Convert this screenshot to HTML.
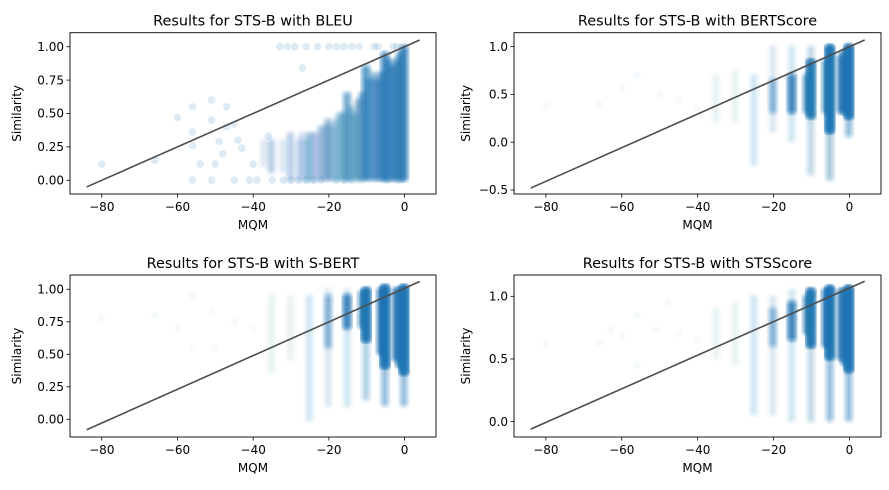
<!DOCTYPE html>
<html><head><meta charset="utf-8">
<style>
html,body{margin:0;padding:0;background:#fff;}
svg{display:block;font-family:"DejaVu Sans","Liberation Sans",sans-serif;}
</style></head>
<body>
<svg id="fig" width="889" height="490" viewBox="0 0 889 490"></svg>
<script>
// ---- data (columns: mqm, yLow, yHigh, density) ----
const xTicks = [-80, -60, -40, -20, 0];
const lineX = [-84, 4];

const bleuCols = [[0,0,1,0.95],[-1,0,0.95,0.7],[-2,0,0.9,0.6],[-3,0,0.85,0.6],[-4,0,0.9,0.6],[-5,0,0.95,0.85],[-6,0,0.8,0.55],[-7,0,0.75,0.55],[-8,0,0.8,0.45],[-9,0,0.75,0.45],[-10,0,0.85,0.75],[-11,0,0.65,0.45],[-12,0,0.6,0.4],[-13,0,0.5,0.35],[-14,0,0.55,0.3],[-15,0,0.65,0.5],[-16,0,0.5,0.3],[-17,0,0.5,0.3],[-18,0,0.45,0.25],[-19,0,0.4,0.25],[-20,0,0.45,0.4],[-21,0,0.4,0.2],[-22,0,0.4,0.2],[-23,0,0.35,0.15],[-24,0,0.35,0.15],[-25,0,0.35,0.3],[-26,0,0.3,0.12],[-27,0,0.35,0.15],[-28,0,0.3,0.1],[-30,0,0.35,0.2],[-32,0.05,0.3,0.1],[-35,0.05,0.3,0.2],[-37,0.1,0.3,0.08]];
const bleuPts = [[-80,0.12],[-66,0.15],[-60,0.47],[-56,0.55],[-56,0.36],[-56,0.26],[-51,0.6],[-51,0.45],[-49,0.29],[-47,0.55],[-47,0.4],[-45,0.42],[-44,0.3],[-43,0.24],[-48,0.2],[-50,0.12],[-54,0.12],[-40,0.12],[-36,0.33],[-27,0.84],[-56,0],[-51,0],[-45,0],[-41,0],[-39,0],[-35,0],[-32,0],[-30,0],[-28,0],[-26,0],[-24,0],[-22,0],[-18,0],[-16,0],[-14,0],[-33,1],[-31,1],[-29,1],[-26,1],[-23,1],[-20,1],[-18,1],[-16,1],[-14,1],[-12,1],[-8,1],[-7,1],[-3,1],[-2,1]];

const bertCols = [[0,0.05,1.02,0.15],[0,0.25,1.0,0.95],[-1,0.3,0.95,0.5],[-2,0.3,0.9,0.4],[-5,-0.4,1.0,0.12],[-5,0.1,1.0,0.9],[-6,0.3,0.85,0.3],[-10,-0.35,1.0,0.08],[-10,0.25,0.85,0.75],[-11,0.3,0.7,0.3],[-15,0.0,1.0,0.05],[-15,0.3,0.7,0.4],[-20,0.1,1.0,0.04],[-20,0.3,0.65,0.15],[-25,-0.25,0.7,0.05],[-30,0.2,0.75,0.03],[-35,0.2,0.7,0.03]];
const bertPts = [[-80,0.38],[-66,0.4],[-60,0.57],[-56,0.7],[-50,0.5],[-45,0.45],[-40,0.35]];

const sbertCols = [[0,0.1,1.02,0.15],[0,0.35,1.02,0.95],[-1,0.4,1.0,0.5],[-2,0.45,1.0,0.4],[-5,0.1,1.02,0.15],[-5,0.4,1.02,0.9],[-6,0.5,1.0,0.4],[-10,0.15,1.0,0.1],[-10,0.6,1.0,0.8],[-11,0.7,0.98,0.3],[-15,0.1,1.0,0.05],[-15,0.7,0.95,0.4],[-20,0.1,1.0,0.04],[-20,0.55,0.95,0.15],[-25,-0.02,0.95,0.05],[-30,0.45,0.95,0.03],[-35,0.35,0.95,0.03]];
const sbertPts = [[-80,0.78],[-66,0.8],[-60,0.7],[-56,0.55],[-56,0.95],[-51,0.83],[-50,0.55],[-45,0.75],[-40,0.7]];

const stsCols = [[0,0.0,1.07,0.15],[0,0.4,1.07,0.95],[-1,0.45,1.05,0.5],[-2,0.5,1.05,0.4],[-5,0.0,1.07,0.15],[-5,0.5,1.07,0.9],[-6,0.6,1.05,0.4],[-10,0.0,1.05,0.08],[-10,0.6,1.05,0.8],[-11,0.7,1.0,0.3],[-15,0.0,1.05,0.05],[-15,0.65,0.95,0.4],[-20,0.05,1.0,0.04],[-20,0.6,0.9,0.15],[-25,0.05,1.0,0.05],[-30,0.45,0.95,0.03],[-35,0.5,0.9,0.03]];
const stsPts = [[-80,0.62],[-66,0.63],[-63,0.73],[-60,0.68],[-56,0.85],[-56,0.45],[-51,0.73],[-48,0.95],[-45,0.7],[-40,0.65]];

const panels = [
 {name:'bleu', title:'Results for STS-B with BLEU', L:70,R:436,T:32.7,B:194, ylim:[-0.103,1.105], yticks:[0,0.25,0.5,0.75,1], dec:2, cols:bleuCols, pts:bleuPts, line:[-0.05,1.05], ptAlpha:0.15, k:0.13},
 {name:'bertscore', title:'Results for STS-B with BERTScore', L:514,R:881,T:32.7,B:194, ylim:[-0.542,1.146], yticks:[-0.5,0,0.5,1], dec:1, cols:bertCols, pts:bertPts, line:[-0.48,1.07], ptAlpha:0.04, k:0.3},
 {name:'sbert', title:'Results for STS-B with S-BERT', L:70,R:436,T:275,B:437, ylim:[-0.136,1.11], yticks:[0,0.25,0.5,0.75,1], dec:2, cols:sbertCols, pts:sbertPts, line:[-0.08,1.06], ptAlpha:0.04, k:0.3},
 {name:'stsscore', title:'Results for STS-B with STSScore', L:514,R:881,T:275,B:437, ylim:[-0.123,1.17], yticks:[0,0.5,1], dec:1, cols:stsCols, pts:stsPts, line:[-0.06,1.12], ptAlpha:0.04, k:0.3}
];
const xlim = [-88.4, 8.3];

const NS='http://www.w3.org/2000/svg';
const svg=document.getElementById('fig');
function mk(tag, attrs, parent){const e=document.createElementNS(NS,tag);for(const k in attrs)e.setAttribute(k,attrs[k]);(parent||svg).appendChild(e);return e;}
function fmt(v,d){const s=Math.abs(v).toFixed(d);return (v<0?'\u2212':'')+s;}
const jitter=[-0.8,-0.2,0.4];

panels.forEach(p=>{
  const g=mk('g',{});
  
  
  const sx=x=>p.L+(x-xlim[0])/(xlim[1]-xlim[0])*(p.R-p.L);
  const sy=y=>p.B-(y-p.ylim[0])/(p.ylim[1]-p.ylim[0])*(p.B-p.T);
  const pts=mk('g',{},g);
  
  
  p.cols.forEach(c=>{
    const y0=sy(c[1]), y1=sy(c[2]);
    const a=Math.min(1,c[3]*p.k);
    jitter.forEach(j=>{
      for(let yy=y1; yy<=y0+0.01; yy+=1.6){
        const el=mk('circle',{cx:sx(c[0]+j).toFixed(1),cy:yy.toFixed(1),r:3.8,fill:'#1f77b4','fill-opacity':a},pts);
        
        
      }
    });
  });
  p.pts.forEach(q=>{
    const el=mk('circle',{cx:sx(q[0]).toFixed(1),cy:sy(q[1]).toFixed(1),r:3.8,fill:'#1f77b4','fill-opacity':p.ptAlpha},pts);
    
    
  });
  const ln=mk('line',{x1:sx(lineX[0]),y1:sy(p.line[0]),x2:sx(lineX[1]),y2:sy(p.line[1]),stroke:'#4d4d4d','stroke-width':1.6},g);
  
  
  const fr=mk('rect',{x:p.L,y:p.T,width:p.R-p.L,height:p.B-p.T,fill:'none',stroke:'#000','stroke-width':0.9},g);
  
  
  xTicks.forEach(t=>{
    const x=sx(t);
    mk('line',{x1:x,y1:p.B,x2:x,y2:p.B+3.5,stroke:'#000','stroke-width':0.8},g);
    const tx=mk('text',{x:x,y:p.B+17,'font-size':12,'text-anchor':'middle',fill:'#000'},g);
    tx.textContent=fmt(t,0);
    
    
  });
  p.yticks.forEach(t=>{
    const y=sy(t);
    mk('line',{x1:p.L-3.5,y1:y,x2:p.L,y2:y,stroke:'#000','stroke-width':0.8},g);
    const tx=mk('text',{x:p.L-6,y:y+4.2,'font-size':12,'text-anchor':'end',fill:'#000'},g);
    tx.textContent=fmt(t,p.dec);
    
    
  });
  const ti=mk('text',{x:(p.L+p.R)/2,y:p.T-7,'font-size':14.4,'text-anchor':'middle',fill:'#000'},g);
  ti.textContent=p.title;
  
  
  const xl=mk('text',{x:(p.L+p.R)/2,y:p.B+35,'font-size':12,'text-anchor':'middle',fill:'#000'},g);
  xl.textContent='MQM';
  
  
  const yx=p.L-(p.dec==2?49:44), yc=(p.T+p.B)/2;
  const yl=mk('text',{x:yx,y:yc,'font-size':12,'text-anchor':'middle',fill:'#000',transform:`rotate(-90 ${yx} ${yc})`},g);
  yl.textContent='Similarity';
  
  
});
</script>
</body></html>
